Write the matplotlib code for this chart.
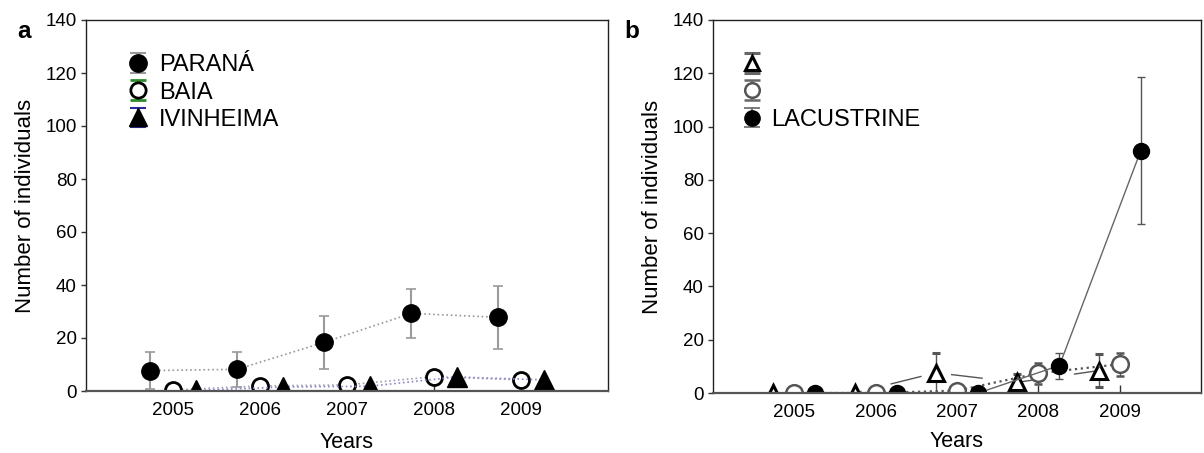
import numpy as np
import matplotlib
matplotlib.use("Agg")
import matplotlib.pyplot as plt
from matplotlib.container import ErrorbarContainer
from matplotlib.legend_handler import HandlerErrorbar

plt.rcParams['font.family'] = ['Liberation Sans', 'DejaVu Sans']

years = np.array([2005, 2006, 2007, 2008, 2009])
off = 0.26

# panel a
parana = [7.7, 8.2, 18.4, 29.3, 27.8]
parana_err = [7.0, 6.7, 10.0, 9.2, 12.0]
baia = [0.4, 1.9, 2.3, 5.4, 4.2]
ivinheima = [0.2, 1.5, 1.8, 5.3, 4.2]

# panel b
tri_b = [0.0, 0.0, 7.6, 4.0, 8.4]
tri_b_err = [0.0, 0.0, 7.5, 3.0, 6.2]
open_b = [0.0, 0.0, 0.9, 7.4, 10.8]
open_b_err = [0.0, 0.0, 0.0, 3.9, 4.3]
lacustrine = [0.0, 0.0, 0.0, 10.3, 91.0]
lacustrine_err = [0.0, 0.0, 0.0, 4.9, 27.5]

yticks = [0, 20, 40, 60, 80, 100, 120, 140]

fig = plt.figure(figsize=(12.04, 4.53), dpi=100)
ax_a = fig.add_axes([86/1204, 1-391/453, (608-86)/1204, (391-20)/453])
ax_b = fig.add_axes([713/1204, 1-393/453, (1201-713)/1204, (393-20)/453])

hmap = {ErrorbarContainer: HandlerErrorbar(xerr_size=0.42)}


def style(ax, xpad):
    ax.set_xlim(2004, 2010)
    ax.set_ylim(0, 140)
    ax.set_xticks(years)
    ax.set_yticks(yticks)
    ax.tick_params(axis='x', direction='in', length=6, width=1, pad=8,
                   labelsize=13.5, color='#333')
    ax.tick_params(axis='y', direction='out', length=3.5, width=1, pad=3,
                   labelsize=13.5, color='#333')
    for s in ['left', 'top', 'right']:
        ax.spines[s].set_color('#222')
        ax.spines[s].set_linewidth(1)
    ax.spines['bottom'].set_color('#555')
    ax.spines['bottom'].set_linewidth(1.6)
    ax.set_xlabel('Years', fontsize=15.5, labelpad=xpad)
    ax.set_ylabel('Number of individuals', fontsize=16, labelpad=7)


# ---- a ----
ax = ax_a
ax.errorbar(years - off, parana, yerr=parana_err, fmt='o', ls=':', color='#999999',
            lw=1.2, mfc='black', mec='black', ms=12.5, ecolor='#9a9a9a', elinewidth=1.5,
            capsize=3.5, capthick=1.2)
ax.plot(years, baia, ls=':', color='#a0a0b8', lw=1.2, marker='o', ms=11.5,
        mfc='white', mec='black', mew=2)
ax.plot(years + off, ivinheima, ls=':', color='#8a8ac8', lw=1.2, marker='^', ms=14.5,
        mfc='black', mec='black')
h1 = ax.errorbar([np.nan], [np.nan], yerr=[1], fmt='o', mfc='black', mec='black', ms=12.5,
                 ecolor='#9a9a9a', elinewidth=1.5, capsize=5.5, capthick=1.5)
h2 = ax.errorbar([np.nan], [np.nan], yerr=[1], fmt='o', mfc='white', mec='black', mew=2,
                 ms=11, ecolor='#2e8b2e', elinewidth=1.5, capsize=5.5, capthick=1.5)
h3 = ax.errorbar([np.nan], [np.nan], yerr=[1], fmt='^', mfc='black', mec='black', ms=13,
                 ecolor='#2a2aa0', elinewidth=1.5, capsize=5.5, capthick=1.5)
ax.legend([h1, h2, h3], ['PARANÁ', 'BAIA', 'IVINHEIMA'], loc='upper left',
          bbox_to_anchor=(0.045, 0.952), frameon=False, fontsize=17, handler_map=hmap,
          handlelength=1.0, handletextpad=0.4, labelspacing=0.22, borderpad=0.2)
style(ax, 9)

# ---- b ----
ax = ax_b
ax.plot(years - off, tri_b, ls=(3.9, (23, 21.6)), color='#555555', lw=1)
ax.errorbar(years - off, tri_b, yerr=tri_b_err, fmt='^', mfc='white', mec='black',
            mew=2.2, ms=11.5, ecolor='#555555', elinewidth=1, capsize=3, capthick=1)
ax.errorbar(years, open_b, yerr=open_b_err, fmt='o', ls=':', color='#555555', lw=1.6,
            mfc='white', mec='#555555', mew=1.8, ms=12, ecolor='#555555',
            elinewidth=1, capsize=3, capthick=1)
ax.errorbar(years + off, lacustrine, yerr=lacustrine_err, fmt='o', ls='-', color='#666666',
            lw=1, mfc='black', mec='black', ms=11.5, ecolor='#555555', elinewidth=1,
            capsize=3, capthick=1)
g1 = ax.errorbar([np.nan], [np.nan], yerr=[1], fmt='^', mfc='white', mec='black', mew=2.2,
                 ms=10, ecolor='#666666', elinewidth=1.2, capsize=5.5, capthick=1.2)
g2 = ax.errorbar([np.nan], [np.nan], yerr=[1], fmt='o', mfc='white', mec='#555555', mew=1.8,
                 ms=10.5, ecolor='#666666', elinewidth=1.2, capsize=5.5, capthick=1.2)
g3 = ax.errorbar([np.nan], [np.nan], yerr=[1], fmt='o', mfc='black', mec='black', ms=11,
                 ecolor='#666666', elinewidth=1.2, capsize=5.5, capthick=1.2)
ax.legend([g1, g2, g3], ['', '', 'LACUSTRINE'], loc='upper left',
          bbox_to_anchor=(0.022, 0.952), frameon=False, fontsize=17, handler_map=hmap,
          handlelength=1.0, handletextpad=0.3, labelspacing=0.22, borderpad=0.2)
style(ax, 7)

fig.text(17/1204, 1-38/453, 'a', fontsize=17.5, fontweight='bold')
fig.text(624/1204, 1-38/453, 'b', fontsize=17.5, fontweight='bold')

fig.savefig('out.png', dpi=100)
